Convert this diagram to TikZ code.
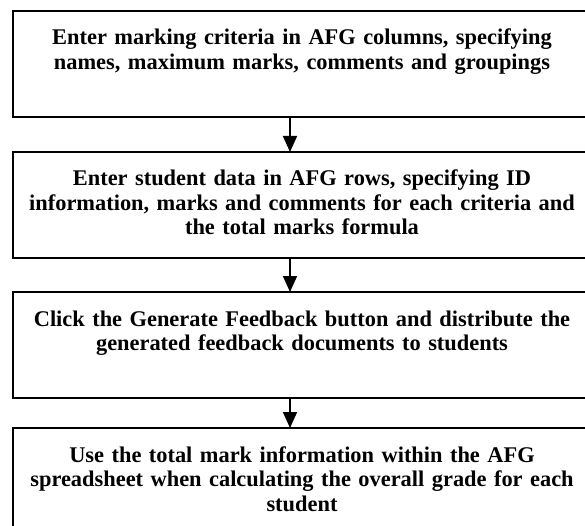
\documentclass[tikz,border=0pt]{standalone}
\usepackage{fontspec}
\setmainfont{Liberation Serif}
\usetikzlibrary{arrows.meta}

\begin{document}
\begin{tikzpicture}[x=1pt,y=1pt,
        stepbox/.style={draw=black, line width=2.4pt, rectangle, outer sep=0pt,
          text width=548pt, align=center, inner xsep=15pt, inner ysep=18pt,
          text height=16pt, text depth=54pt,
          font=\fontsize{22.4}{24.5}\selectfont\bfseries},
        flow/.style={draw=black, line width=1.6pt, -{Triangle[length=16pt,width=14pt]}}]
        \useasboundingbox (0,0) rectangle (585,-526);
        \node [stepbox, anchor=north] (crit) at (302,-11) {Enter marking criteria in AFG columns, specifying\\names, maximum marks, comments and groupings};
        \node [stepbox, anchor=north] (data) at (302,-152) {Enter student data in AFG rows, specifying ID\\information, marks and comments for each criteria and\\the total marks formula};
        \node [stepbox, anchor=north] (gen) at (302,-292) {Click the Generate Feedback button and distribute the\\generated feedback documents to students};
        \node [stepbox, anchor=north] (grade) at (302,-428) {Use the total mark information within the AFG\\spreadsheet when calculating the overall grade for each\\student};
        \draw [flow] ([xshift=-12pt]crit.south) -- ([xshift=-12pt]data.north);
        \draw [flow] ([xshift=-12pt]data.south) -- ([xshift=-12pt]gen.north);
        \draw [flow] ([xshift=-12pt]gen.south) -- ([xshift=-12pt]grade.north);
\end{tikzpicture}
\end{document}
